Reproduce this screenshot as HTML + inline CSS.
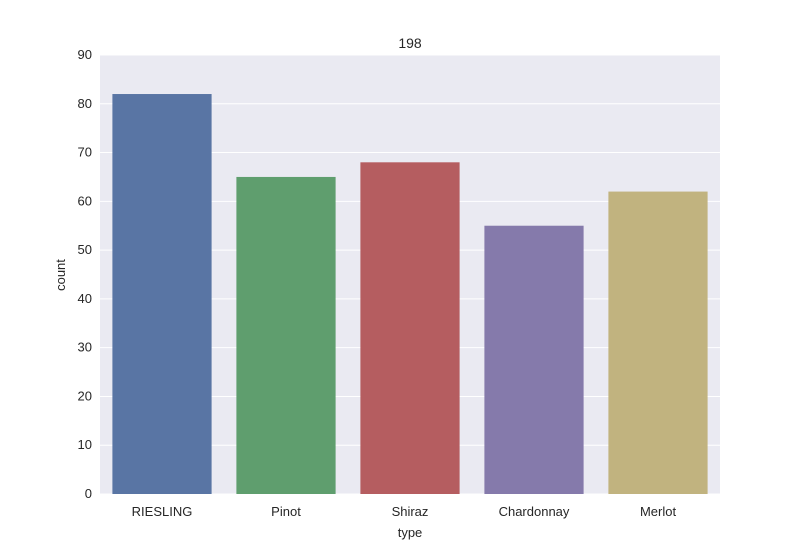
<!DOCTYPE html>
<html><head><meta charset="utf-8"><style>
body{margin:0;background:#fff;}
svg text{font-family:"Liberation Sans",Arial,sans-serif;fill:#262626;}
</style></head><body>
<svg id="chart" width="800" height="550" xmlns="http://www.w3.org/2000/svg">
<rect x="100" y="55" width="620" height="439" fill="#EAEAF2"/>
<g id="grid"></g><g id="bars"></g><g id="xticks"></g><g id="yticks"></g>
<text x="410" y="48" font-size="14" text-anchor="middle">198</text>
<text x="410" y="537" font-size="13" text-anchor="middle">type</text>
<text x="0" y="0" font-size="13" text-anchor="middle" transform="translate(65,275) rotate(-90)">count</text>
</svg>
<script>
const categories = ["RIESLING","Pinot","Shiraz","Chardonnay","Merlot"];
const counts = [82,65,68,55,62];
const colors = ["#5975a4","#5f9e6e","#b55d60","#857aab","#c1b37f"];
const yTicks = [0,10,20,30,40,50,60,70,80,90];
const NS="http://www.w3.org/2000/svg";
const x0=100,x1=720,y0=494,y1=55,ymax=90;
const band=(x1-x0)/categories.length;
const yScale=v=>y0-(v/ymax)*(y0-y1);
const xScale=i=>x0+band*i;
function mk(t,a,p){const e=document.createElementNS(NS,t);for(const k in a)e.setAttribute(k,a[k]);p.appendChild(e);return e;}
const grid=document.getElementById('grid'),yt=document.getElementById('yticks'),bars=document.getElementById('bars'),xt=document.getElementById('xticks');
yTicks.forEach(v=>{
  const y=yScale(v);
  const l=mk('line',{x1:x0,x2:x1,y1:y,y2:y,stroke:'#fff','stroke-width':1},grid);
  
  
  const t=mk('text',{x:x0-8,y:y+4,'font-size':13,'text-anchor':'end'},yt);
  t.textContent=v;
  
  
});
categories.forEach((c,i)=>{
  const bw=band*0.8,bx=xScale(i)+band*0.1,by=yScale(counts[i]);
  const r=mk('rect',{x:bx,y:by,width:bw,height:y0-by,fill:colors[i]},bars);
  
  
  const t=mk('text',{x:xScale(i)+band/2,y:y0+22,'font-size':13,'text-anchor':'middle'},xt);
  t.textContent=c;
  
  
});
</script>
</body></html>
